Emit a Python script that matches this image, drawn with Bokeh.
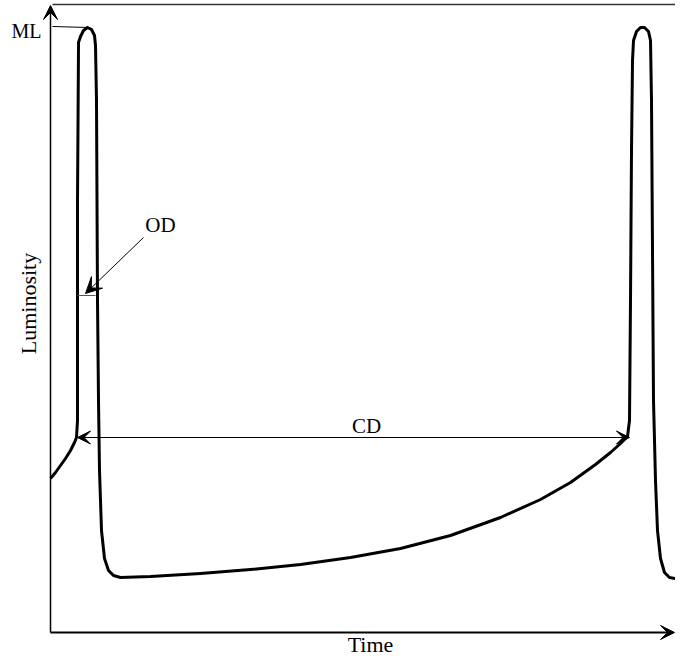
import math
from bokeh.plotting import figure
from bokeh.models import Range1d, Arrow, VeeHead
from bokeh.core.properties import value
from bokeh.embed import file_html
from bokeh.resources import INLINE

# Light curve (schematic dwarf-nova outbursts)
time = [0, 5, 10, 15, 20, 24, 26, 27, 27, 27, 27.5, 28, 28, 30, 33, 37, 41, 44, 45,
        46, 46.5, 47, 48, 49, 51, 54, 58, 63, 70, 100, 150, 200, 250, 300, 350, 400,
        450, 490, 520, 545, 560, 570, 577, 579, 580, 581, 582, 583, 586, 590, 594,
        598, 600, 601, 602, 603, 605, 607, 610, 614, 619, 625, 633]
luminosity = [154, 160, 167, 174, 182, 190, 195, 212, 332, 432, 507, 587, 590, 596,
              602, 605, 603, 597, 587, 532, 432, 332, 232, 162, 102, 74, 62, 57, 55,
              56, 59, 63, 68, 75, 84, 97, 115, 133, 150, 168, 180, 189, 196, 212,
              332, 482, 572, 592, 601, 605, 605, 601, 592, 532, 382, 232, 152, 102,
              74, 60, 55, 54, 54]

# annotation anchors (data units)
ml_line_x = [2, 38]
ml_line_y = [606, 605]
od_tick_x = [27, 45]
od_tick_y = [337, 337]
od_arrow = (93, 395, 35, 339)
cd_y = 195
cd_x = (27, 579)
x_axis_end = 624
y_axis_end = 627

FONT = value("Liberation Serif")

p = figure(width=675, height=656, output_backend="svg", toolbar_location=None,
           x_range=Range1d(-50, 625), y_range=Range1d(-24, 632),
           min_border=0, min_border_left=0, min_border_right=0,
           min_border_top=0, min_border_bottom=0)
p.axis.visible = False
p.grid.visible = False
p.outline_line_color = None
p.background_fill_color = "white"

# axes with arrows
p.add_layout(Arrow(x_start=0, y_start=0, x_end=x_axis_end, y_end=0, line_width=2,
                   line_color="black",
                   end=VeeHead(size=14, fill_color="black", line_color="black")))
p.add_layout(Arrow(x_start=0, y_start=0, x_end=0, y_end=y_axis_end, line_width=1.5,
                   line_color="black",
                   end=VeeHead(size=14, fill_color="black", line_color="black")))
# top frame line
p.segment(x0=[2], y0=[628], x1=[625], y1=[628], line_color="#333333", line_width=1.5)

# light curve
p.line(time, luminosity, line_color="black", line_width=3, line_join="round")

# ML marker
p.line(ml_line_x, ml_line_y, line_color="black", line_width=1)
p.text(x=[-24], y=[602], text=["ML"], text_font=FONT, text_font_size="20px",
       text_align="center", text_baseline="middle", text_color="black")

# OD marker
p.line(od_tick_x, od_tick_y, line_color="#555555", line_width=1)
p.add_layout(Arrow(x_start=od_arrow[0], y_start=od_arrow[1], x_end=od_arrow[2],
                   y_end=od_arrow[3], line_width=1, line_color="black",
                   end=VeeHead(size=16, fill_color="black", line_color="black")))
p.text(x=[110], y=[408], text=["OD"], text_font=FONT, text_font_size="21px",
       text_align="center", text_baseline="middle", text_color="black")

# CD marker
p.add_layout(Arrow(x_start=cd_x[0], y_start=cd_y, x_end=cd_x[1], y_end=cd_y,
                   line_width=1, line_color="black",
                   start=VeeHead(size=13, fill_color="black", line_color="black"),
                   end=VeeHead(size=13, fill_color="black", line_color="black")))
p.text(x=[316], y=[207], text=["CD"], text_font=FONT, text_font_size="21px",
       text_align="center", text_baseline="middle", text_color="black")

# axis labels
p.text(x=[320], y=[-12], text=["Time"], text_font=FONT, text_font_size="22px",
       text_align="center", text_baseline="middle", text_color="black")
p.text(x=[-22], y=[329], text=["Luminosity"], text_font=FONT, text_font_size="22px",
       text_align="center", text_baseline="middle", text_color="black",
       angle=math.pi / 2)

open("out.html", "w").write(file_html(p, INLINE))
